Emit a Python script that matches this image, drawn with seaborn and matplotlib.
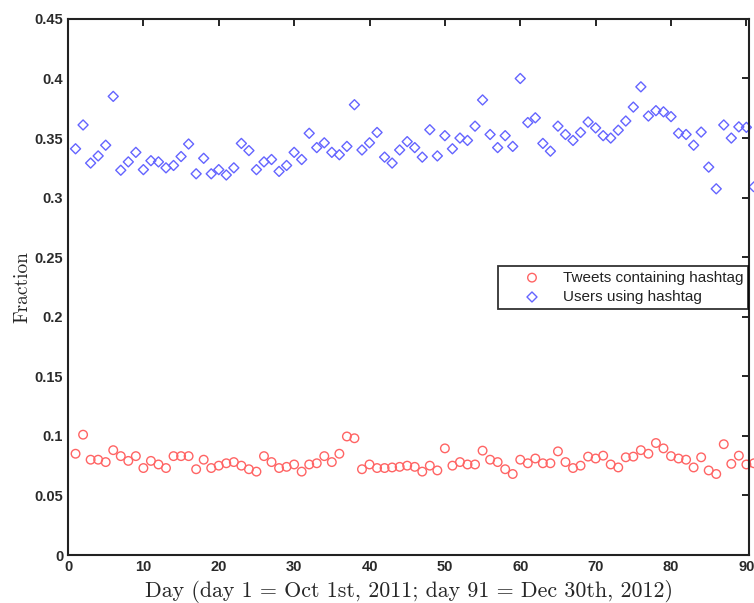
import numpy as np
import pandas as pd
import matplotlib
matplotlib.use("Agg")
import matplotlib.pyplot as plt
import seaborn as sns
from matplotlib.ticker import FixedLocator, FixedFormatter

days = list(range(1, 92))
tweets = [0.085, 0.101, 0.080, 0.080, 0.078, 0.088, 0.083, 0.079, 0.083, 0.073,
          0.079, 0.076, 0.073, 0.083, 0.083, 0.083, 0.072, 0.080, 0.073, 0.075,
          0.077, 0.078, 0.075, 0.072, 0.070, 0.083, 0.078, 0.073, 0.074, 0.076,
          0.070, 0.076, 0.077, 0.083, 0.078, 0.085, 0.0995, 0.098, 0.072, 0.076,
          0.073, 0.073, 0.0735, 0.074, 0.075, 0.074, 0.070, 0.075, 0.071, 0.0895,
          0.075, 0.078, 0.076, 0.076, 0.0876, 0.080, 0.078, 0.072, 0.068, 0.080,
          0.077, 0.081, 0.077, 0.077, 0.087, 0.078, 0.073, 0.075, 0.0826, 0.081,
          0.0834, 0.076, 0.0735, 0.082, 0.0826, 0.088, 0.085, 0.094, 0.0895, 0.083,
          0.081, 0.080, 0.0735, 0.082, 0.071, 0.068, 0.093, 0.0765, 0.0834, 0.076,
          0.077]
users = [0.341, 0.361, 0.329, 0.335, 0.344, 0.385, 0.323, 0.330, 0.338, 0.3235,
         0.331, 0.330, 0.325, 0.327, 0.3345, 0.345, 0.320, 0.333, 0.320, 0.3235,
         0.319, 0.325, 0.3455, 0.3395, 0.3235, 0.330, 0.332, 0.322, 0.327, 0.338,
         0.332, 0.354, 0.342, 0.346, 0.338, 0.336, 0.343, 0.378, 0.340, 0.346,
         0.3547, 0.334, 0.329, 0.340, 0.347, 0.342, 0.334, 0.357, 0.335, 0.352,
         0.341, 0.350, 0.348, 0.360, 0.382, 0.353, 0.342, 0.352, 0.343, 0.400,
         0.363, 0.367, 0.3455, 0.339, 0.360, 0.353, 0.348, 0.3547, 0.3635, 0.3585,
         0.352, 0.350, 0.3566, 0.3643, 0.376, 0.393, 0.3685, 0.373, 0.372, 0.368,
         0.354, 0.353, 0.344, 0.355, 0.3256, 0.3074, 0.361, 0.350, 0.3594, 0.359,
         0.309]
series_names = ["Tweets containing hashtag", "Users using hashtag"]
xticks = [0, 10, 20, 30, 40, 50, 60, 70, 80, 90]
yticks = [0, 0.05, 0.1, 0.15, 0.2, 0.25, 0.3, 0.35, 0.4, 0.45]
ytick_labels = ["0", "0.05", "0.1", "0.15", "0.2", "0.25", "0.3", "0.35", "0.4", "0.45"]

sns.set_theme(style="white")
plt.rcParams['font.family'] = ['Liberation Sans', 'DejaVu Sans']
plt.rcParams['axes.formatter.use_mathtext'] = False

df_t = pd.DataFrame({"day": days, "value": tweets})
df_u = pd.DataFrame({"day": days, "value": users})

fig = plt.figure(figsize=(7.54, 6.03), dpi=100)
ax = fig.add_axes([0.0902, 0.0796, 0.9032, 0.889])

sns.scatterplot(data=df_t, x="day", y="value", ax=ax, marker="o", s=38,
                facecolor="none", edgecolor="#ff6464", linewidth=1.0,
                label=series_names[0], clip_on=False)
sns.scatterplot(data=df_u, x="day", y="value", ax=ax, marker="D", s=26,
                facecolor="none", edgecolor="#6464ff", linewidth=1.0,
                label=series_names[1], clip_on=False)

ax.set_xlim(0, 90.35)
ax.set_ylim(0, 0.45)
ax.xaxis.set_major_locator(FixedLocator(xticks))
ax.yaxis.set_major_locator(FixedLocator(yticks))
ax.yaxis.set_major_formatter(FixedFormatter(ytick_labels))
ax.tick_params(direction="in", length=5, width=1.2, top=True, right=True,
               labelsize=10.5, colors="black", pad=3.5)
for lab in ax.get_xticklabels() + ax.get_yticklabels():
    lab.set_fontweight("bold")
    lab.set_color("#2a2a2a")
for sp in ax.spines.values():
    sp.set_color("#222222")
    sp.set_linewidth(1.5)

serif = ["cmr10", "DejaVu Serif"]
ax.set_xlabel("Day (day 1 = Oct 1st, 2011; day 91 = Dec 30th, 2012)",
              family=serif, fontsize=15.8, labelpad=4.5)
ax.set_ylabel("Fraction", family=serif, fontsize=14, labelpad=2)

leg = ax.legend(loc="upper right", bbox_to_anchor=(0.9985, 0.539), fontsize=11,
                frameon=True, fancybox=False, edgecolor="black",
                borderpad=0.3, handletextpad=0.1, borderaxespad=0,
                labelspacing=0.35, handlelength=3.85)
leg.get_frame().set_linewidth(1.3)
for t in leg.get_texts():
    t.set_color("#222222")

fig.savefig("out.png", dpi=100)
